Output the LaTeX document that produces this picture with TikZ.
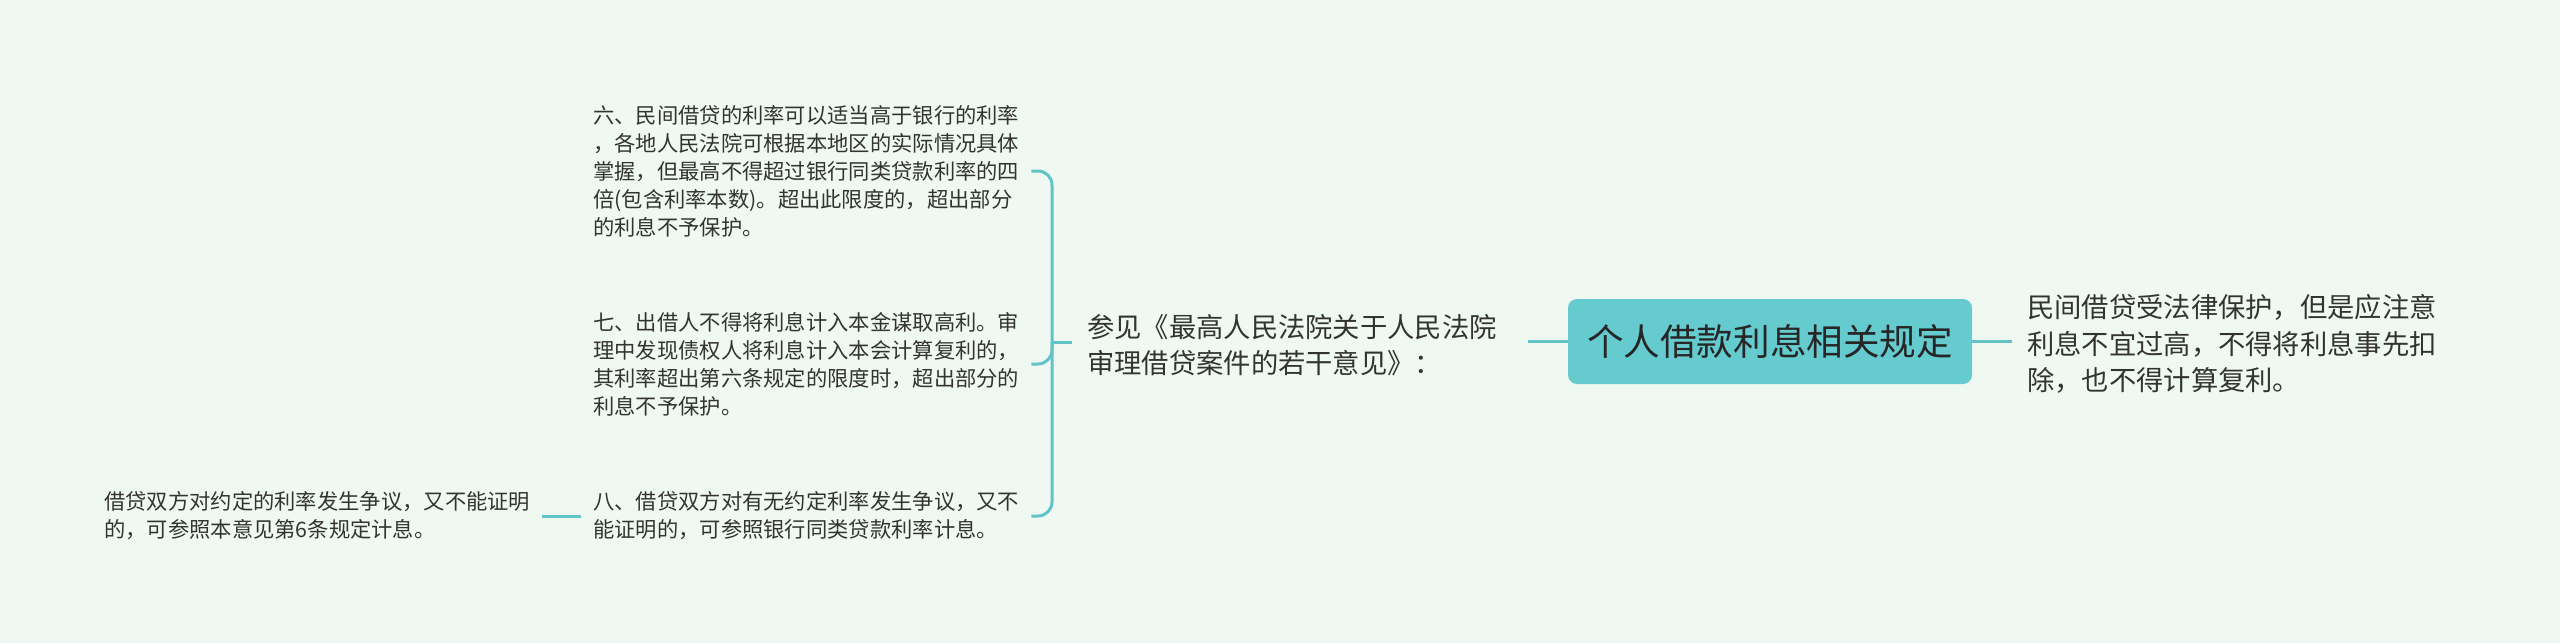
\documentclass[tikz,border=0pt]{standalone}
\usepackage{fontspec}
\setmainfont{Noto Sans CJK SC}
\definecolor{bgc}{HTML}{F0F9F1}
\definecolor{linkc}{HTML}{63C4C8}
\definecolor{rootfill}{HTML}{65CBCE}
\definecolor{txtc}{HTML}{333333}
\begin{document}
\begin{tikzpicture}[x=1pt,y=-1pt,
  link/.style={draw=linkc, line width=3pt, rounded corners=14pt},
  txt/.style={inner ysep=0pt, align=left, anchor=west, text=txtc},
  small/.style={txt, inner xsep=12pt, text width=426pt, font=\fontsize{21.3pt}{28pt}\selectfont},
  big/.style={txt, inner xsep=15pt, text width=426pt, font=\fontsize{27.3pt}{36.3pt}\selectfont},
  rootbox/.style={fill=rootfill, rounded corners=9pt, minimum width=404pt, minimum height=85pt, inner sep=0pt, text=black!85, font=\fontsize{36.6pt}{44pt}\selectfont}]
\fill[bgc] (0,0) rectangle (2560,643);
\useasboundingbox (0,0) rectangle (2560,643);

\node[rootbox] (root) at (1770,341.5) {个人借款利息相关规定};
\node[big] (note) at (2012,344) {民间借贷受法律保护，但是应注意\\利息不宜过高，不得将利息事先扣\\除，也不得计算复利。};
\node[big] (ref) at (1072,345) {参见《最高人民法院关于人民法院\\审理借贷案件的若干意见》：};
\node[small] (c6) at (581,171) {六、民间借贷的利率可以适当高于银行的利率\\，各地人民法院可根据本地区的实际情况具体\\掌握，但最高不得超过银行同类贷款利率的四\\倍(包含利率本数)。超出此限度的，超出部分\\的利息不予保护。};
\node[small] (c7) at (581,364) {七、出借人不得将利息计入本金谋取高利。审\\理中发现债权人将利息计入本会计算复利的，\\其利率超出第六条规定的限度时，超出部分的\\利息不予保护。};
\node[small] (c8) at (581,516) {八、借贷双方对有无约定利率发生争议，又不\\能证明的，可参照银行同类贷款利率计息。};
\node[small] (leaf) at (92,516) {借贷双方对约定的利率发生争议，又不能证明\\的，可参照本意见第6条规定计息。};
\coordinate (fork) at (1052,342);

\draw[link] (root.west) -- (ref.east |- root.west);
\draw[link] (root.east) -- (note.west |- root.east);
\draw[link] (fork) -- (ref.west |- fork);
\draw[link] (fork) |- (c6.east);
\draw[link] (fork) |- (c7.east);
\draw[link] (fork) |- (c8.east);
\draw[link] (c8.west) -- (leaf.east |- c8.west);
\end{tikzpicture}
\end{document}
